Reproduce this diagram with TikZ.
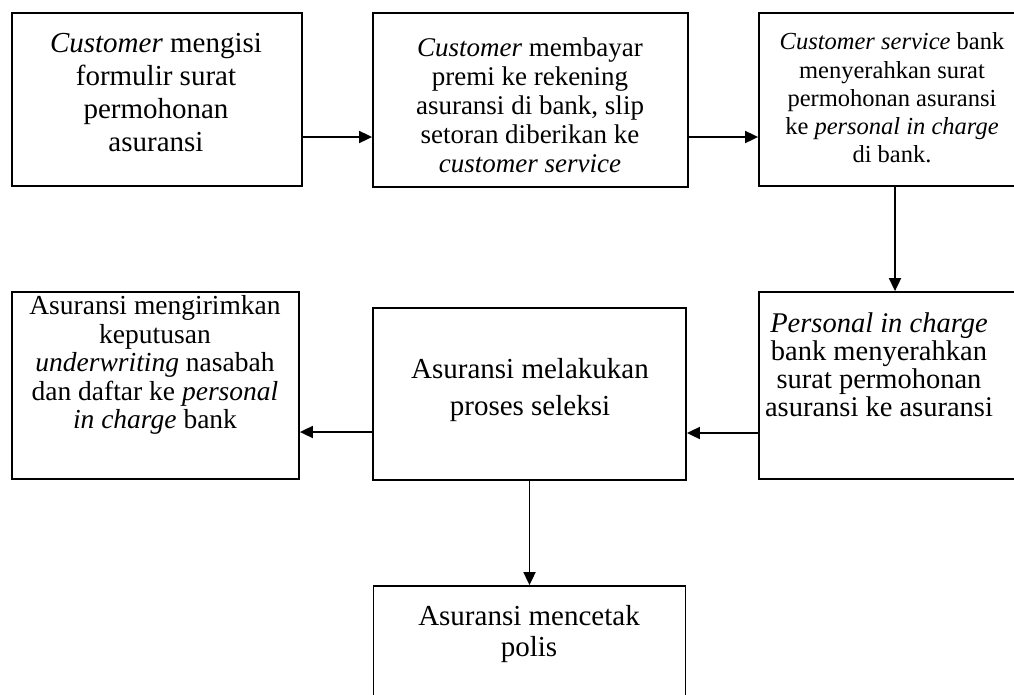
\documentclass[tikz,border=0pt]{standalone}
\usepackage{fontspec}
\setmainfont{Liberation Serif}
\usetikzlibrary{arrows.meta}
\begin{document}
\begin{tikzpicture}[x=1pt,y=-1pt,
  box/.style={draw=black, line width=1.8pt, rectangle, inner sep=0pt},
  txt/.style={align=center, inner sep=0pt, font=\fontsize{28}{29}\selectfont},
  flow/.style={line width=1.8pt, -{Triangle[length=13pt,width=12pt]}}]
\useasboundingbox (0,0) rectangle (1014,694);
\clip (0,0) rectangle (1014,694);
% boxes
\node[box, minimum width=290, minimum height=173] (b1) at (157,99.5) {};
\node[box, minimum width=315, minimum height=174] (b2) at (530.5,100) {};
\node[box, minimum width=272, minimum height=173] (b3) at (895,99.5) {};
\node[box, minimum width=287, minimum height=187] (b4) at (155.5,385.5) {};
\node[box, minimum width=313, minimum height=172] (b5) at (529.5,394) {};
\node[box, minimum width=272, minimum height=187] (b6) at (895,385.5) {};
\node[box, minimum width=312, minimum height=150] (b7) at (529.5,661) {};
% texts
\node[txt, font=\fontsize{29}{33}\selectfont] (t1) at (156,93) {\textit{Customer} mengisi\\formulir surat\\permohonan\\asuransi};
\node[txt, font=\fontsize{27}{29}\selectfont] (t2) at (530,105) {\textit{Customer} membayar\\premi ke rekening\\asuransi di bank, slip\\setoran diberikan ke\\\textit{customer service}};
\node[txt, font=\fontsize{24.5}{28.3}\selectfont] (t3) at (892,98) {\textit{Customer service} bank\\menyerahkan surat\\permohonan asuransi\\ke \textit{personal in charge}\\di bank.};
\node[txt, font=\fontsize{27.5}{28.5}\selectfont] (t4) at (155,365) {Asuransi mengirimkan\\keputusan\\\textit{underwriting} nasabah\\dan daftar ke \textit{personal}\\\textit{in charge} bank};
\node[txt, font=\fontsize{29}{37}\selectfont] (t5) at (530,390) {Asuransi melakukan\\proses seleksi};
\node[txt, font=\fontsize{28.5}{28}\selectfont] (t6) at (879,365) {\textit{Personal in charge}\\bank menyerahkan\\surat permohonan\\asuransi ke asuransi};
\node[txt, font=\fontsize{29}{31}\selectfont] (t7) at (529,634) {Asuransi mencetak\\polis};
% connectors
\draw[flow] (b1.east |- 0,137) -- (b2.west |- 0,137);
\draw[flow] (b2.east |- 0,137) -- (b3.west |- 0,137);
\draw[flow] (b3.south) -- (b6.north);
\draw[flow] (b6.west |- 0,433) -- (b5.east |- 0,433);
\draw[flow] (b5.west |- 0,432) -- (b4.east |- 0,432);
\draw[flow] (b5.south) -- (b7.north);
\end{tikzpicture}
\end{document}
